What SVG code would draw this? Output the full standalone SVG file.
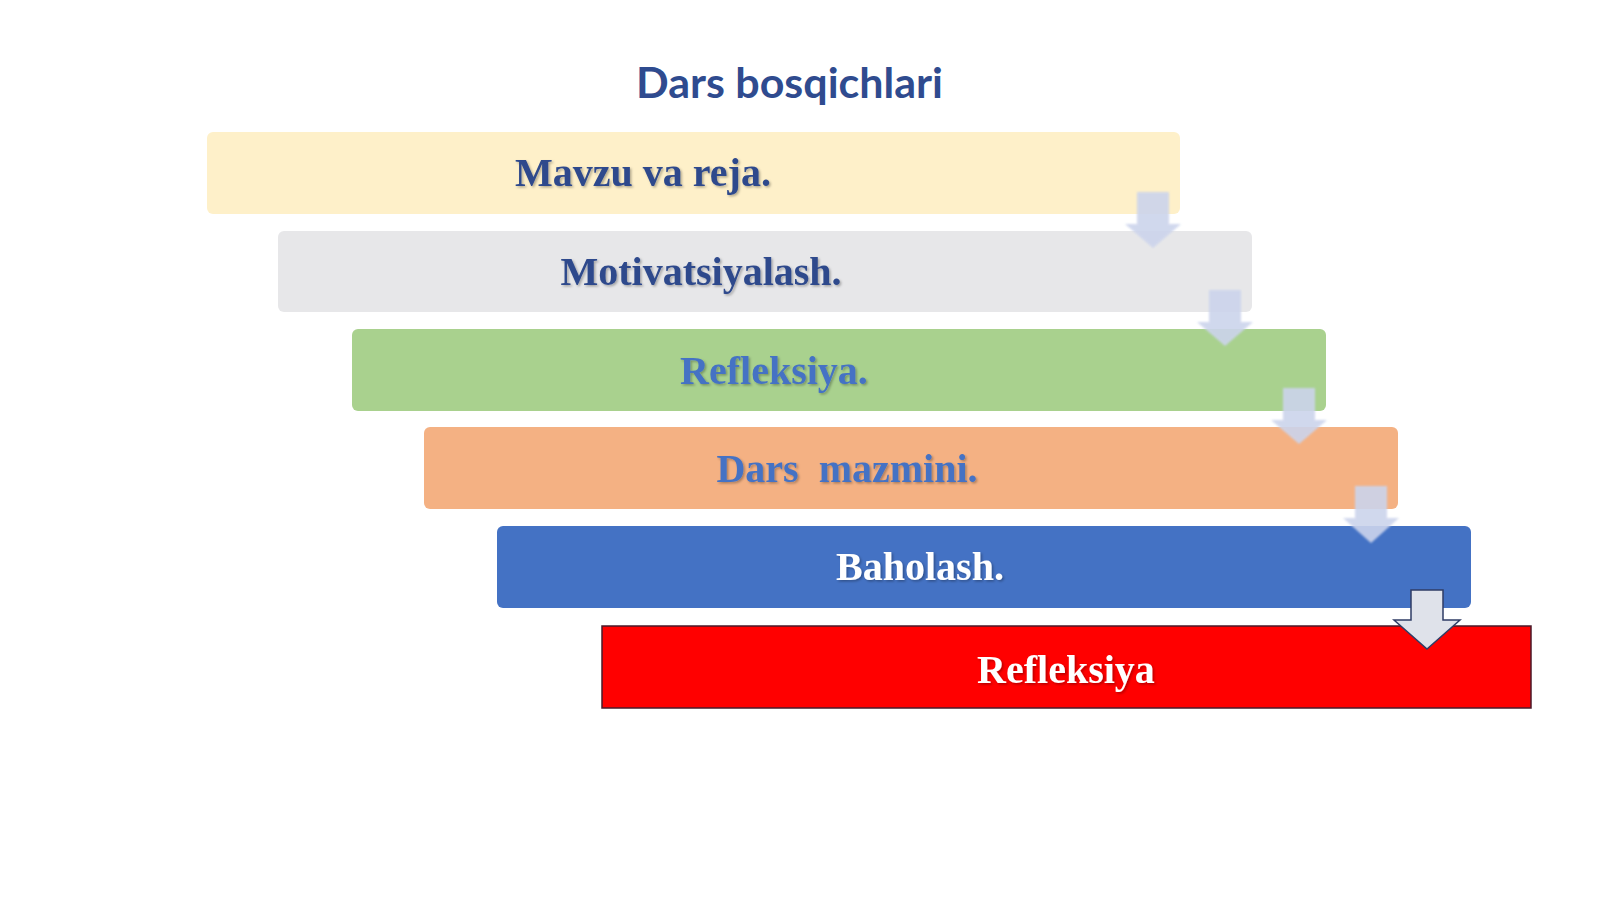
<svg xmlns="http://www.w3.org/2000/svg" width="1600" height="899" viewBox="0 0 1600 899">
  <defs>
    <filter id="tshadow" x="-5%" y="-20%" width="110%" height="140%">
      <feDropShadow dx="1.5" dy="1.5" stdDeviation="0.8" flood-color="#000000" flood-opacity="0.3"/>
    </filter>
    <filter id="soft" x="-10%" y="-10%" width="120%" height="120%">
      <feGaussianBlur stdDeviation="1"/>
    </filter>
  </defs>
  <style>
    .title { font-family: "Lato", "Open Sans", sans-serif; font-weight: 700; font-size: 42px; fill: #2F4B8F; }
    .lbl { font-family: "Liberation Serif", "Times New Roman", serif; font-weight: 700; font-size: 40px; text-anchor: middle; white-space: pre; filter: url(#tshadow); }
    .dark { fill: #2F4A8C; }
    .mid { fill: #4472C4; }
    .white { fill: #FFFFFF; }
    .arrow { fill: #CCD4EC; opacity: 0.9; }
    .arrow-last { fill: #DFE2EA; stroke: #2F3D66; stroke-width: 1.5; }
  </style>
  <rect x="0" y="0" width="1600" height="899" fill="#FFFFFF"/>

  <text class="title" x="636" y="98" textLength="307" lengthAdjust="spacingAndGlyphs">Dars bosqichlari</text>

  <g id="node1">
    <rect x="207" y="132" width="973" height="82" rx="6" fill="#FEF0C9"/>
    <text class="lbl dark" x="643" y="186">Mavzu va reja.</text>
  </g>
  <g id="node2">
    <rect x="278" y="231" width="974" height="81" rx="6" fill="#E7E7E9"/>
    <text class="lbl dark" x="701" y="285">Motivatsiyalash.</text>
  </g>
  <g id="node3">
    <rect x="352" y="329" width="974" height="82" rx="6" fill="#A9D18E"/>
    <text class="lbl mid" x="774" y="384">Refleksiya.</text>
  </g>
  <g id="node4">
    <rect x="424" y="427" width="974" height="82" rx="6" fill="#F4B183"/>
    <text class="lbl mid" x="847" y="482">Dars  mazmini.</text>
  </g>
  <g id="node5">
    <rect x="497" y="526" width="974" height="82" rx="6" fill="#4472C4"/>
    <text class="lbl white" x="920" y="580">Baholash.</text>
  </g>
  <g id="node6">
    <rect x="602" y="626" width="929" height="82" fill="#FF0000" stroke="#4A1A2A" stroke-width="1.5"/>
    <text class="lbl white" x="1066" y="683">Refleksiya</text>
  </g>

  <g id="connectors">
    <path class="arrow" filter="url(#soft)" d="M1137,192 H1169 V224 H1181 L1153,248 L1125,224 H1137 Z"/>
    <path class="arrow" filter="url(#soft)" d="M1209,290 H1241 V322 H1253 L1225,346 L1197,322 H1209 Z"/>
    <path class="arrow" filter="url(#soft)" d="M1283,388 H1315 V420 H1327 L1299,444 L1271,420 H1283 Z"/>
    <path class="arrow" filter="url(#soft)" d="M1355,486 H1387 V518 H1399 L1371,543 L1343,518 H1355 Z"/>
    <path class="arrow-last" d="M1411,590 H1443 V620 H1460 L1427,649 L1394,620 H1411 Z"/>
  </g>
</svg>
